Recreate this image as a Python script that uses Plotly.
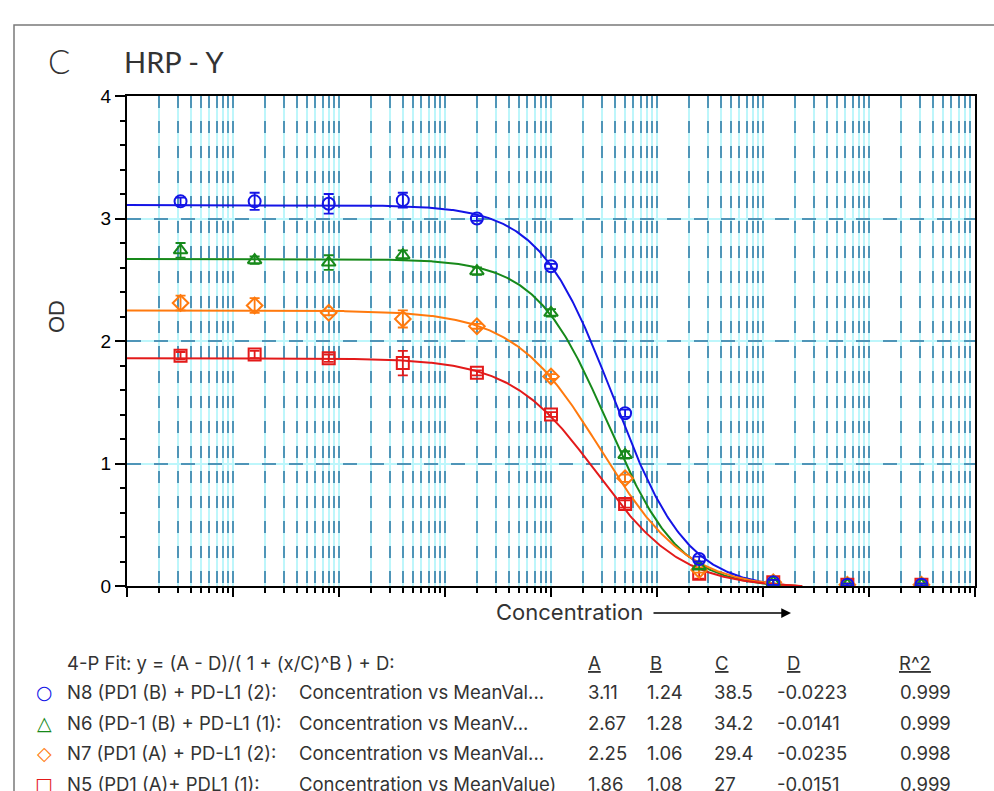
import numpy as np
import plotly.graph_objects as go

# ---------------- data ----------------
conc = [0.0032, 0.016, 0.08, 0.4, 2, 10, 50, 250, 1250, 6250, 31250]

n8_od = [3.14, 3.14, 3.12, 3.15, 3.00, 2.61, 1.41, 0.22, 0.03, 0.01, 0.01]
n8_err = [0.03, 0.07, 0.08, 0.06, 0.02, 0.02, 0.03, 0.02, 0.02, 0.01, 0.01]
n6_od = [2.74, 2.66, 2.64, 2.70, 2.57, 2.23, 1.07, 0.16, 0.03, 0.01, 0.01]
n6_err = [0.06, 0.03, 0.06, 0.04, 0.03, 0.03, 0.03, 0.02, 0.02, 0.01, 0.01]
n7_od = [2.31, 2.29, 2.23, 2.18, 2.12, 1.71, 0.88, 0.13, 0.03, 0.01, 0.01]
n7_err = [0.06, 0.06, 0.02, 0.07, 0.02, 0.02, 0.03, 0.02, 0.02, 0.01, 0.01]
n5_od = [1.88, 1.89, 1.86, 1.82, 1.74, 1.40, 0.67, 0.10, 0.03, 0.01, 0.01]
n5_err = [0.03, 0.03, 0.03, 0.10, 0.02, 0.02, 0.03, 0.04, 0.02, 0.01, 0.01]

series_names = ["N8 (PD1 (B) + PD-L1 (2):", "N6 (PD-1 (B) + PD-L1 (1):",
                "N7 (PD1 (A) + PD-L1 (2):", "N5 (PD1 (A)+ PDL1 (1):"]
series_desc = ["Concentration vs MeanVal...", "Concentration vs MeanV...",
               "Concentration vs MeanVal...", "Concentration vs MeanValue)"]
fit_A = [3.11, 2.67, 2.25, 1.86]
fit_B = [1.24, 1.28, 1.06, 1.08]
fit_C = [38.5, 34.2, 29.4, 27]
fit_D = [-0.0223, -0.0141, -0.0235, -0.0151]
fit_R2 = [0.999, 0.999, 0.998, 0.999]
fit_range = [0.001, 2340]

y_ticks = [0, 1, 2, 3, 4]

od_values = [n8_od, n6_od, n7_od, n5_od]
od_errors = [n8_err, n6_err, n7_err, n5_err]

# ---------------- styles ----------------
colors = ["#1414e6", "#17891a", "#ff7a0e", "#e31a1a"]
symbols = ["circle-open", "triangle-up-open", "diamond-open", "square-open"]
legend_glyphs = ["○", "△", "◇", "□"]
TXT = "Inter"
TITLE_FONT = "Lato"
TXT_COLOR = "#333333"
GRID_LIGHT = "#bdf6fb"
GRID_DARK = "#4f95b8"

W, H = 994, 791
L, R, T, B = 127, 975, 96, 586


def px(xp):
    return (xp - L) / (R - L)


def py(yp):
    return (B - yp) / (B - T)


fig = go.Figure()

# dummy trace to activate the overlay axes (dashed grid)
fig.add_trace(go.Scatter(x=[], y=[], xaxis="x2", yaxis="y2",
                         showlegend=False, hoverinfo="skip"))

for i in range(4):
    xs = np.logspace(np.log10(fit_range[0]), np.log10(fit_range[1]), 500)
    ys = fit_D[i] + (fit_A[i] - fit_D[i]) / (1 + (xs / fit_C[i]) ** fit_B[i])
    fig.add_trace(go.Scatter(x=xs, y=ys, mode="lines",
                             line=dict(color=colors[i], width=2),
                             showlegend=False, hoverinfo="skip"))

for i in reversed(range(4)):
    fig.add_trace(go.Scatter(
        x=conc, y=od_values[i], mode="markers",
        marker=dict(symbol=symbols[i], size=12, color=colors[i],
                    line=dict(width=2, color=colors[i])),
        error_y=dict(type="data", array=od_errors[i], visible=True,
                     color=colors[i], thickness=1.8, width=5),
        name=series_names[i], showlegend=False))

axis_common = dict(showline=True, linecolor="black", linewidth=2, mirror=True)

fig.update_layout(
    width=W, height=H,
    margin=dict(l=L, r=W - R, t=T, b=H - B, autoexpand=False),
    plot_bgcolor="white", paper_bgcolor="white",
    showlegend=False,
    xaxis=dict(type="log", range=[-3, 5], dtick=1, showticklabels=False,
               ticks="outside", ticklen=9, tickwidth=1.5, tickcolor="black",
               showgrid=True, gridcolor=GRID_LIGHT, gridwidth=2,
               minor=dict(dtick="D1", ticks="outside", ticklen=5, tickwidth=1.5,
                          tickcolor="black", showgrid=True,
                          gridcolor=GRID_LIGHT, gridwidth=2),
               zeroline=False, **axis_common),
    yaxis=dict(range=[0, 4], tickvals=y_ticks, ticks="outside", ticklen=10,
               tickwidth=1.5, tickcolor="black",
               tickfont=dict(family="Liberation Sans, Arial", size=19, color="black"),
               showgrid=True, gridcolor=GRID_LIGHT, gridwidth=2,
               minor=dict(dtick=0.2, ticks="outside", ticklen=5, tickwidth=1.5,
                          tickcolor="black", showgrid=False),
               zeroline=False, **axis_common),
    xaxis2=dict(type="log", range=[-3, 5], dtick=1, overlaying="x", anchor="y2",
                showticklabels=False, ticks="", showline=False, zeroline=False,
                showgrid=True, gridcolor=GRID_DARK, gridwidth=1.6,
                griddash="12px,13px",
                minor=dict(dtick="D1", showgrid=True, gridcolor=GRID_DARK,
                           gridwidth=1.6, griddash="12px,13px", ticks="")),
    yaxis2=dict(range=[0, 4], tickvals=y_ticks, overlaying="y", anchor="x2",
                showticklabels=False, ticks="", showline=False, zeroline=False,
                showgrid=True, gridcolor=GRID_DARK, gridwidth=1.6,
                griddash="14px,13px"),
)

ann = []
# panel letter and title
ann.append(dict(text="C", x=px(46), y=py(61), xanchor="left", yanchor="middle",
                font=dict(family=TITLE_FONT, size=33, color=TXT_COLOR, weight=300)))
ann.append(dict(text="HRP - Y", x=px(122), y=py(61), xanchor="left", yanchor="middle",
                font=dict(family=TITLE_FONT, size=29, color=TXT_COLOR)))
# y title
ann.append(dict(text="OD", x=px(56), y=py(317), xanchor="center", yanchor="middle",
                textangle=-90, font=dict(family="Liberation Sans, Arial", size=22,
                                         color=TXT_COLOR)))
# x title + arrow
ann.append(dict(text="Concentration", x=px(569), y=py(612), xanchor="center",
                yanchor="middle", font=dict(family=TXT, size=22, color=TXT_COLOR)))
ann.append(dict(text="", x=px(791), y=py(613), ax=-139, ay=0, showarrow=True,
                arrowhead=2, arrowsize=1.3, arrowwidth=1.5, arrowcolor="black",
                standoff=0))

# fit table
row_y = [663, 692, 723, 753, 784]
col_x = {"A": 586, "B": 645, "C": 712, "D": 775, "R2": 898}
hdr_x = {"A": 586, "B": 648, "C": 713, "D": 785, "R2": 897}
tfont = dict(family=TXT, size=18.5, color=TXT_COLOR)
ann.append(dict(text="4-P Fit: y = (A - D)/( 1 + (x/C)^B ) + D:", x=px(65),
                y=py(row_y[0]), xanchor="left", yanchor="middle", font=tfont))
for key, lab in [("A", "A"), ("B", "B"), ("C", "C"), ("D", "D"), ("R2", "R^2")]:
    ann.append(dict(text="<u>%s</u>" % lab, x=px(hdr_x[key]), y=py(row_y[0]),
                    xanchor="left", yanchor="middle", font=tfont))
for i in range(4):
    yy = py(row_y[i + 1])
    ann.append(dict(text="<b>%s</b>" % legend_glyphs[i], x=px(44), y=yy,
                    xanchor="center", yanchor="middle",
                    font=dict(family="DejaVu Sans", size=19, color=colors[i])))
    ann.append(dict(text=series_names[i], x=px(65), y=yy, xanchor="left",
                    yanchor="middle", font=tfont))
    ann.append(dict(text=series_desc[i], x=px(297), y=yy, xanchor="left",
                    yanchor="middle", font=tfont))
    vals = {"A": "%g" % fit_A[i], "B": "%g" % fit_B[i], "C": "%g" % fit_C[i],
            "D": "%g" % fit_D[i], "R2": "%g" % fit_R2[i]}
    for key in ["A", "B", "C", "D", "R2"]:
        ann.append(dict(text=vals[key], x=px(col_x[key]), y=yy, xanchor="left",
                        yanchor="middle", font=tfont))

for a in ann:
    a.setdefault("showarrow", False)
    a["xref"] = "paper"
    a["yref"] = "paper"
fig.update_layout(annotations=ann)

# outer frame
fig.add_shape(type="rect", xref="paper", yref="paper",
              x0=px(14), x1=px(1010), y0=py(25), y1=py(820),
              line=dict(color="#7a7a7a", width=1.5), fillcolor="rgba(0,0,0,0)",
              layer="below")

fig.write_html("out.html", config={"displayModeBar": False},
               post_script="document.body.style.margin='0';")
